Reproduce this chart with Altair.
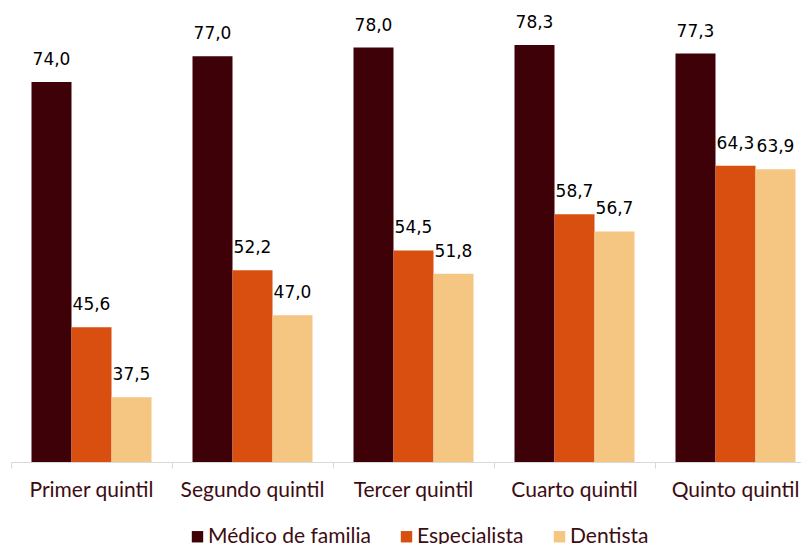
import altair as alt
import pandas as pd

quintiles = ["Primer quintil", "Segundo quintil", "Tercer quintil", "Cuarto quintil", "Quinto quintil"]
series = ["Médico de familia", "Especialista", "Dentista"]
medico = [74.0, 77.0, 78.0, 78.3, 77.3]
especialista = [45.6, 52.2, 54.5, 58.7, 64.3]
dentista = [37.5, 47.0, 51.8, 56.7, 63.9]
colors = ["#3e0107", "#d84f10", "#f5c582"]

rows = []
for s, vals in zip(series, [medico, especialista, dentista]):
    for q, v in zip(quintiles, vals):
        rows.append({"quintil": q, "serie": s, "valor": v,
                     "etiqueta": f"{v:.1f}".replace(".", ",")})
df = pd.DataFrame(rows)

x = alt.X("quintil:N", sort=quintiles, title=None,
          scale=alt.Scale(range=[0, 805], paddingInner=0, paddingOuter=0),
          axis=alt.Axis(labelAngle=0, labelFont="Lato", labelFontSize=21,
                        labelColor="#3d0c11", domainColor="#d9d9d9", tickColor="#d9d9d9",
                        tickSize=6, bandPosition=0, labelBaseline="alphabetic",
                        labelPadding=28, ticks=True, domainWidth=1))
xo = alt.XOffset("serie:N", sort=series,
                 scale=alt.Scale(paddingInner=0, paddingOuter=0.5125))
y = alt.Y("valor:Q", axis=None, scale=alt.Scale(domain=[30, 82], zero=False, nice=False))

base = alt.Chart(df).encode(x=x, xOffset=xo)

bars = base.mark_bar().encode(
    y=y, y2=alt.datum(30),
    color=alt.Color("serie:N", sort=series,
                    scale=alt.Scale(domain=series, range=colors),
                    legend=alt.Legend(title=None, orient="none", direction="horizontal",
                                      legendX=176, legendY=513, symbolType="square",
                                      symbolSize=130, symbolStrokeWidth=0,
                                      labelFont="Lato", labelFontSize=21,
                                      labelColor="#3d0c11", columnPadding=25,
                                      labelOffset=0, labelLimit=400)))

text = base.mark_text(baseline="alphabetic", dy=-17, font="DejaVu Sans",
                      fontSize=17, color="#000000").encode(
    y=alt.Y("valor:Q", scale=alt.Scale(domain=[30, 82], zero=False, nice=False)),
    text="etiqueta:N")

chart = (bars + text).properties(
    width=790, height=449,
    autosize=alt.AutoSizeParams(type="none"),
    padding={"left": 3, "top": 5, "right": 0, "bottom": 82},
).configure_view(stroke=None)

chart.save("out.html", embed_options={"renderer": "svg", "actions": False})
